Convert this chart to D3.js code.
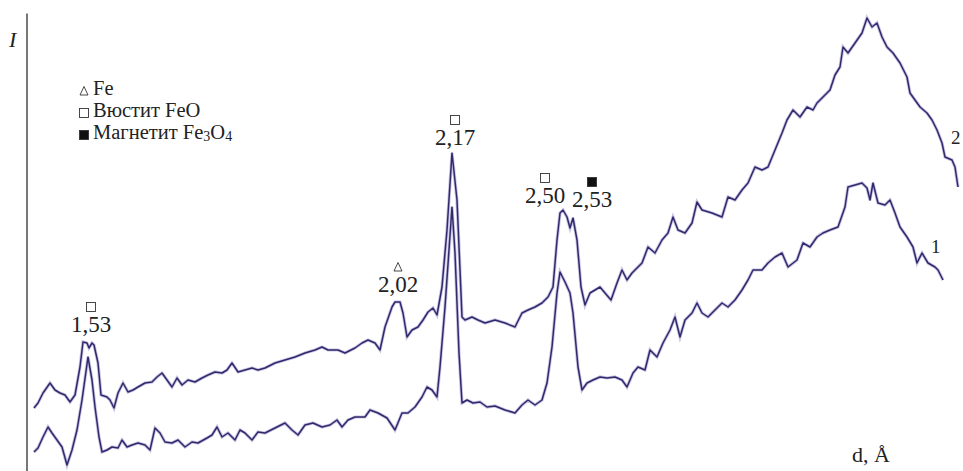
<!DOCTYPE html>
<html>
<head>
<meta charset="utf-8">
<script src="https://cdn.jsdelivr.net/npm/d3@7"></script>
<style>
  body { margin: 0; background: #fff; }
  text { font-family: "Liberation Serif", "DejaVu Serif", serif; fill: #222; }
</style>
</head>
<body>
<div id="chart"></div>
<script>
const curve2Ch = [34,38,43,50,55,60,65,70,75,80,83,87,89,92,94,98,101,107,110,114,118,123,128,133,138,145,152,157,162,167,172,177,182,188,195,202,208,215,222,227,232,238,245,252,258,265,275,285,295,305,315,322,328,338,345,355,362,368,375,380,385,392,395,400,403,407,412,418,423,428,433,437,442,447,452,457,460,462,465,472,478,485,495,505,515,522,528,535,542,548,553,557,560,563,567,570,573,577,581,585,590,595,600,605,611,617,622,627,632,638,642,648,655,662,668,673,678,685,692,697,702,712,722,728,735,742,748,755,762,768,775,782,787,793,800,807,813,817,823,830,835,840,843,848,855,862,867,872,877,882,887,893,900,907,910,915,920,927,932,937,942,945,952,955,958];
const curve2I = [63,68,78,88,81,78,76,69,76,104,129,128,123,128,126,108,76,74,71,63,78,88,79,81,84,88,89,94,98,91,84,93,86,91,89,93,96,99,98,101,108,99,101,103,101,103,108,111,114,118,121,124,121,121,118,123,128,131,128,121,144,164,169,169,158,134,141,144,151,159,163,156,184,241,318,271,201,154,151,154,151,148,151,148,144,158,161,164,168,174,184,231,258,261,254,243,253,231,184,166,178,181,184,178,171,188,201,191,198,204,208,224,218,231,238,254,241,238,248,269,261,258,254,274,271,281,288,304,301,304,321,338,351,361,354,364,361,368,374,381,396,404,424,418,428,438,453,444,448,434,424,418,408,394,378,371,364,358,351,341,328,314,311,304,284];

const curve1Ch = [34,38,43,48,52,57,62,67,72,77,82,88,92,95,99,102,107,112,118,122,127,132,138,145,150,155,160,165,172,178,185,192,198,207,212,217,222,228,235,240,245,252,258,265,275,285,292,298,305,313,322,330,337,342,348,355,365,370,378,387,395,402,408,415,422,427,432,437,440,445,452,455,459,462,467,473,480,487,495,505,515,522,528,535,542,547,552,557,560,565,570,573,578,582,587,593,600,607,615,622,627,633,638,645,650,657,663,670,675,680,685,692,697,702,708,715,722,728,735,742,748,753,762,768,775,782,788,797,803,810,817,823,830,838,845,848,855,862,867,870,873,878,885,890,895,900,907,913,917,922,928,935,938,943];
const curve1I = [19,23,34,44,38,31,24,6,21,41,71,114,91,64,34,19,21,24,23,31,24,26,28,26,21,43,38,29,28,31,24,29,28,33,36,44,34,38,31,41,38,31,39,38,43,48,41,36,46,48,44,46,51,44,51,54,54,61,58,53,41,58,58,64,74,84,81,74,104,164,264,218,118,68,71,68,69,64,65,61,58,66,71,66,71,88,124,178,199,189,178,158,104,81,88,91,94,93,94,91,84,98,104,101,121,114,128,141,154,134,151,158,168,158,154,161,168,164,171,181,191,201,201,208,214,218,204,211,228,224,234,238,241,244,264,284,286,288,283,271,288,268,266,271,258,244,234,224,208,218,208,204,201,191];

const peakLabels = ["1,53", "2,02", "2,17", "2,50", "2,53"];
const peakPhase  = ["wustite", "iron", "wustite", "wustite", "magnetite"];
const peakCh     = [91, 398, 455, 545, 592];
const peakLevel  = [139, 179, 326, 268, 264];   // intensity level of label baseline

const curveNames = ["2", "1"];

const W = 963, H = 471;

const svg = d3.select('#chart')
  .append('svg')
  .attr('width', W)
  .attr('height', H);

const xScale = d3.scaleLinear().domain([0, 963]).range([0, W]);
const yScale = d3.scaleLinear().domain([0, 471]).range([H, 0]);

// vertical axis line, no ticks
svg.append('g')
  .attr('transform', 'translate(' + xScale(26.5) + ',0)')
  .call(d3.axisLeft(yScale.copy().range([H, 13])).ticks(0).tickSize(0))
  .call(g => g.select('.domain').attr('stroke', '#555').attr('stroke-width', 1.6));

svg.append('text')
  .attr('x', 9).attr('y', 47)
  .attr('font-size', 22)
  .attr('font-style', 'italic')
  .text('I');

const line = d3.line()
  .x(d => xScale(d[0]))
  .y(d => yScale(d[1]));

const curves = [
  d3.zip(curve2Ch, curve2I),
  d3.zip(curve1Ch, curve1I)
];

curves.forEach(c => {
  svg.append('path')
    .attr('d', line(c))
    .attr('fill', 'none')
    .attr('stroke', '#a39bd0')
    .attr('stroke-width', 3.2)
    .attr('opacity', 0.6);
  svg.append('path')
    .attr('d', line(c))
    .attr('fill', 'none')
    .attr('stroke', '#302a6c')
    .attr('stroke-width', 1.5)
    .attr('stroke-linejoin', 'round');
});

// curve numbers
svg.append('text').attr('x', 951).attr('y', 144).attr('font-size', 19).text(curveNames[0]);
svg.append('text').attr('x', 931).attr('y', 253).attr('font-size', 19).text(curveNames[1]);

function marker(g, type, cx, cy) {
  if (type === 'iron') {
    g.append('path')
      .attr('d', 'M' + (cx - 4) + ',' + (cy + 4) + 'L' + cx + ',' + (cy - 4.5) + 'L' + (cx + 4) + ',' + (cy + 4) + 'Z')
      .attr('fill', 'none').attr('stroke', '#333').attr('stroke-width', 0.9);
  } else {
    g.append('rect')
      .attr('x', cx - 4.5).attr('y', cy - 4.5)
      .attr('width', 9).attr('height', 9)
      .attr('fill', type === 'magnetite' ? '#111' : '#fff')
      .attr('stroke', '#333').attr('stroke-width', 0.9);
  }
}

// peak labels
const ann = svg.append('g');
peakLabels.forEach((lbl, i) => {
  const cx = xScale(peakCh[i]);
  const by = yScale(peakLevel[i]);
  ann.append('text')
    .attr('x', cx).attr('y', by)
    .attr('text-anchor', 'middle')
    .attr('font-size', 23)
    .text(lbl);
  marker(ann, peakPhase[i], cx, by - 25);
});

// legend
const legendItems = [
  { type: 'iron', parts: [['Fe', false]] },
  { type: 'wustite', parts: [['Вюстит FeO', false]] },
  { type: 'magnetite', parts: [['Магнетит Fe', false], ['3', true], ['O', false], ['4', true]] }
];
const leg = svg.append('g').attr('transform', 'translate(84,97)');
legendItems.forEach((it, i) => {
  const y = i * 22;
  marker(leg, it.type, 0, y - 6);
  const t = leg.append('text').attr('x', 9).attr('y', y).attr('font-size', 20.5);
  it.parts.forEach(p => {
    t.append('tspan')
      .attr('font-size', p[1] ? 14 : 20.5)
      .attr('dy', p[1] ? 2 : (t.selectAll('tspan').size() > 0 ? -2 : 0))
      .text(p[0]);
  });
});

svg.append('text')
  .attr('x', 852).attr('y', 462)
  .attr('font-size', 22)
  .text('d, Å');
</script>
</body>
</html>
